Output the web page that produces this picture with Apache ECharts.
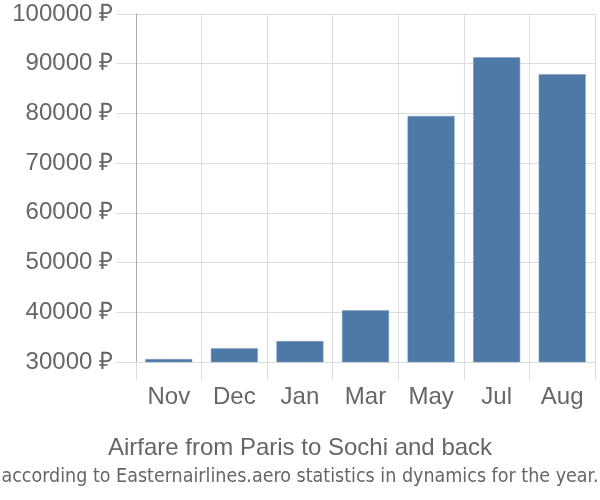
<!DOCTYPE html>
<html><head><meta charset="utf-8">
<script src="https://cdn.jsdelivr.net/npm/echarts@6/dist/echarts.min.js"></script>
<style>html,body{margin:0;padding:0;background:#fff}#c{width:600px;height:500px}</style>
</head><body><div id="c"></div>
<script>
const categories = ["Nov","Dec","Jan","Mar","May","Jul","Aug"];
const prices = [30600, 32750, 34200, 40400, 79500, 91300, 87900];
const titleText = "Airfare from Paris to Sochi and back";
const subtitleText = "according to Easternairlines.aero statistics in dynamics for the year.";

const chart = echarts.init(document.getElementById('c'), null, {renderer:'canvas'});
chart.setOption({
  animation: false,
  title: [
    {text: titleText, left: 'center', top: 431,
     textStyle: {fontFamily: 'Liberation Sans', fontSize: 24, fontWeight: 'normal', color: '#666'}},
    {text: subtitleText, left: 'center', top: 462,
     textStyle: {fontFamily: '"DejaVu Sans Condensed", "Liberation Sans Narrow", sans-serif', fontSize: 19.5, fontWeight: 'normal', color: '#666'}}
  ],
  grid: {left: 136, right: 5, top: 14, bottom: 138, containLabel: false},
  xAxis: {
    type: 'category', data: categories, boundaryGap: true,
    axisLine: {show: false},
    axisTick: {show: true, length: 18, interval: 0, lineStyle: {color: '#ddd', width: 1}},
    splitLine: {show: true, interval: 0, lineStyle: {color: '#ddd', width: 1}},
    axisLabel: {margin: 23, fontFamily: 'Liberation Sans', fontSize: 24, color: '#666', interval: 0}
  },
  yAxis: {
    type: 'value', min: 30000, max: 100000, interval: 10000,
    axisLine: {show: true, lineStyle: {color: '#aaa', width: 1}},
    axisTick: {show: true, length: 20, lineStyle: {color: '#ddd', width: 1}},
    splitLine: {show: true, lineStyle: {color: '#ddd', width: 1}},
    axisLabel: {margin: 23, fontFamily: 'Liberation Sans', fontSize: 24, color: '#666',
      formatter: v => v + ' ₽'}
  },
  series: [{
    type: 'bar', data: prices, barWidth: 47,
    itemStyle: {color: '#4e79a7', borderColor: '#7a9cc2', borderWidth: 0.5}
  }]
});
</script></body></html>
